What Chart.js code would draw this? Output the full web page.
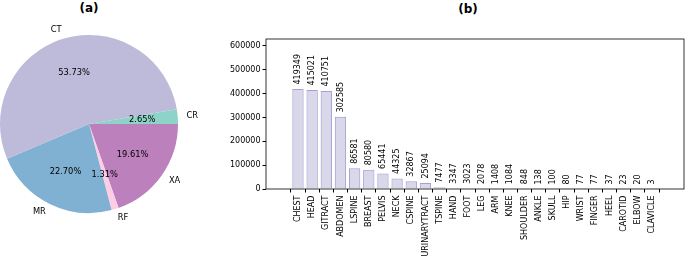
<!DOCTYPE html>
<html>
<head>
<meta charset="utf-8">
<script src="https://cdn.jsdelivr.net/npm/chart.js@4"></script>
<style>
  body { margin: 0; background: #fff; width: 685px; height: 257px; position: relative; overflow: hidden; }
  .title { position: absolute; font: bold 12px "DejaVu Sans", sans-serif; color: #000; transform: translate(-50%, -50%); white-space: nowrap; }
  canvas { position: absolute; top: 0; }
</style>
</head>
<body>
<div class="title" style="left:89px; top:8px;">(a)</div>
<div class="title" style="left:468px; top:9px;">(b)</div>
<canvas id="pieChart" width="200" height="257" style="left:0;"></canvas>
<canvas id="barChart" width="505" height="257" style="left:180px;"></canvas>
<script>
// (a) modality share, matplotlib order (counterclockwise from 3 o'clock)
const pieLabels = ["CR", "CT", "MR", "RF", "XA"];
const pieValues = [2.65, 53.73, 22.70, 1.31, 19.61];
const pieColors = ["#8dd3c7", "#bebada", "#80b1d3", "#fccde5", "#bc80bd"];

// (b) body part counts
const bodyParts = ["CHEST", "HEAD", "GITRACT", "ABDOMEN", "LSPINE", "BREAST", "PELVIS", "NECK",
  "CSPINE", "URINARYTRACT", "TSPINE", "HAND", "FOOT", "LEG", "ARM", "KNEE", "SHOULDER",
  "ANKLE", "SKULL", "HIP", "WRIST", "FINGER", "HEEL", "CAROTID", "ELBOW", "CLAVICLE"];
const bodyCounts = [419349, 415021, 410751, 302585, 86581, 80580, 65441, 44325,
  32867, 25094, 7477, 3347, 3023, 2078, 1408, 1084, 848,
  138, 100, 80, 77, 77, 37, 23, 20, 3];
const yTicks = [0, 100000, 200000, 300000, 400000, 500000, 600000];

const FONT = "DejaVu Sans";
Chart.defaults.font.family = FONT;
Chart.defaults.color = "#000";

// Chart.js goes clockwise, so reverse to get the same picture
const pieL = pieLabels.slice().reverse();
const pieV = pieValues.slice().reverse();
const pieC = pieColors.slice().reverse();

const pieText = {
  id: "pieText",
  afterDatasetsDraw(chart) {
    const ctx = chart.ctx;
    const arcs = chart.getDatasetMeta(0).data;
    ctx.save();
    ctx.font = "8.3px " + FONT;
    ctx.fillStyle = "#000";
    ctx.textBaseline = "middle";
    arcs.forEach((arc, i) => {
      const mid = (arc.startAngle + arc.endAngle) / 2;
      const r = arc.outerRadius;
      const c = Math.cos(mid), s = Math.sin(mid);
      ctx.textAlign = c >= 0 ? "left" : "right";
      ctx.fillText(pieL[i], arc.x + c * r * 1.1, arc.y + s * r * 1.1);
      ctx.textAlign = "center";
      ctx.fillText(pieV[i].toFixed(2) + "%", arc.x + c * r * 0.6, arc.y + s * r * 0.6);
    });
    ctx.restore();
  }
};

new Chart(document.getElementById("pieChart"), {
  type: "pie",
  data: {
    labels: pieL,
    datasets: [{ data: pieV, backgroundColor: pieC, borderWidth: 0, hoverBorderWidth: 0, hoverOffset: 0 }]
  },
  options: {
    responsive: false,
    animation: false,
    rotation: 90,
    layout: { padding: { left: 0, right: 22, top: 35, bottom: 44 } },
    plugins: { legend: { display: false }, tooltip: { enabled: false } }
  },
  plugins: [pieText]
});

// box round the axes + value labels on top of the bars
const barText = {
  id: "barText",
  afterDraw(chart) {
    const ctx = chart.ctx;
    const a = chart.chartArea;
    ctx.save();
    ctx.strokeStyle = "#000";
    ctx.lineWidth = 0.8;
    ctx.strokeRect(a.left, a.top, a.right - a.left, a.bottom - a.top);
    ctx.font = "8px " + FONT;
    ctx.fillStyle = "#000";
    ctx.textAlign = "left";
    ctx.textBaseline = "middle";
    chart.getDatasetMeta(0).data.forEach((bar, i) => {
      ctx.save();
      ctx.translate(bar.x, bar.y - 4.5);
      ctx.rotate(-Math.PI / 2);
      ctx.fillText(String(bodyCounts[i]), 0, 0);
      ctx.restore();
    });
    ctx.restore();
  }
};

new Chart(document.getElementById("barChart"), {
  type: "bar",
  data: {
    datasets: [{
      data: bodyCounts.map((v, i) => ({ x: i, y: v })),
      backgroundColor: "rgba(190,186,218,0.58)",
      borderColor: "#a49fd4",
      borderWidth: 1,
      barPercentage: 0.8,
      categoryPercentage: 1.0
    }]
  },
  options: {
    responsive: false,
    animation: false,
    layout: { padding: { left: 0, right: 1, top: 39, bottom: 0 } },
    plugins: { legend: { display: false }, tooltip: { enabled: false } },
    scales: {
      x: {
        type: "linear",
        min: -1.69,
        max: 26.69,
        afterBuildTicks: s => { s.ticks = bodyParts.map((_, i) => ({ value: i })); },
        afterFit: s => { s.height = 68; },
        grid: { drawOnChartArea: false, drawTicks: true, tickLength: 3.5, color: "#000" },
        border: { display: false },
        ticks: {
          autoSkip: false, minRotation: 90, maxRotation: 90, padding: 3,
          font: { size: 8 },
          callback: v => bodyParts[v] || ""
        }
      },
      y: {
        min: 0,
        max: 629024,
        afterBuildTicks: s => { s.ticks = yTicks.map(v => ({ value: v })); },
        afterFit: s => { s.width = 86; },
        grid: { drawOnChartArea: false, drawTicks: true, tickLength: 3.5, color: "#000" },
        border: { display: false },
        ticks: { padding: 2, font: { size: 8 }, callback: v => String(v) }
      }
    }
  },
  plugins: [barText]
});
</script>
</body>
</html>
